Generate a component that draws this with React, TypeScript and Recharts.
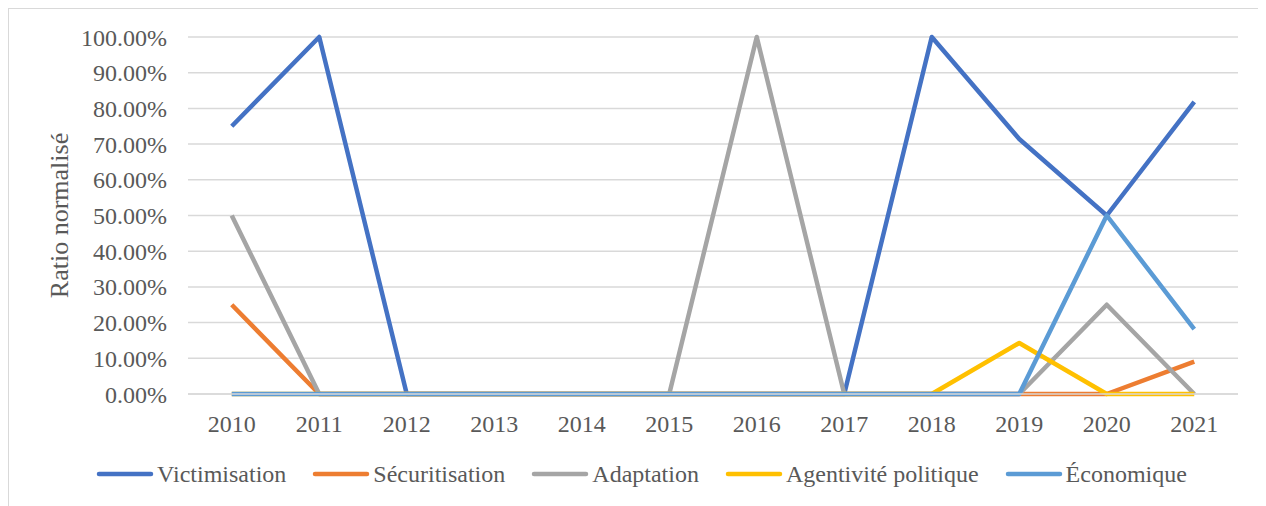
import { CartesianGrid, Legend, Line, LineChart, XAxis, YAxis } from "recharts";

const years = ["2010", "2011", "2012", "2013", "2014", "2015", "2016", "2017", "2018", "2019", "2020", "2021"];

const victimisation = [0.75, 1, 0, 0, 0, 0, 0, 0, 1, 0.7143, 0.5, 0.8182];
const securitisation = [0.25, 0, 0, 0, 0, 0, 0, 0, 0, 0, 0, 0.0909];
const adaptation = [0.5, 0, 0, 0, 0, 0, 1, 0, 0, 0, 0.25, 0];
const agentivite = [0, 0, 0, 0, 0, 0, 0, 0, 0, 0.1429, 0, 0];
const economique = [0, 0, 0, 0, 0, 0, 0, 0, 0, 0, 0.5, 0.1818];

const yTicks = [0, 0.1, 0.2, 0.3, 0.4, 0.5, 0.6, 0.7, 0.8, 0.9, 1];

const series = [
  { key: "victimisation", name: "Victimisation", color: "#4472C4" },
  { key: "securitisation", name: "Sécuritisation", color: "#ED7D31" },
  { key: "adaptation", name: "Adaptation", color: "#A5A5A5" },
  { key: "agentivite", name: "Agentivité politique", color: "#FFC000" },
  { key: "economique", name: "Économique", color: "#5B9BD5" },
];

const data = years.map((year, i) => ({
  year,
  victimisation: victimisation[i],
  securitisation: securitisation[i],
  adaptation: adaptation[i],
  agentivite: agentivite[i],
  economique: economique[i],
}));

const font = '"Liberation Serif", "DejaVu Serif", serif';
const textColor = "#595959";

function LegendContent() {
  return (
    <div
      style={{
        height: 57,
        paddingLeft: 36,
        boxSizing: "border-box",
        display: "flex",
        justifyContent: "center",
        alignItems: "flex-start",
        fontFamily: font,
        fontSize: 24,
        color: textColor,
        lineHeight: "18px",
      }}
    >
      {series.map((s) => (
        <div
          key={s.key}
          style={{ display: "flex", alignItems: "center", margin: "0 13px", position: "relative", top: 16 }}
        >
          <svg width={58} height={8} style={{ marginRight: 3 }}>
            <line x1={3} y1={4} x2={55} y2={4} stroke={s.color} strokeWidth={4.5} strokeLinecap="round" />
          </svg>
          <span>{s.name}</span>
        </div>
      ))}
    </div>
  );
}

export default function App() {
  return (
    <div
      style={{
        width: 1258,
        height: 498,
        boxSizing: "border-box",
        borderTop: "1px solid #d9d9d9",
        borderLeft: "1px solid #d9d9d9",
        background: "#fff",
        fontFamily: font,
      }}
    >
      <LineChart width={1257} height={497} data={data} margin={{ top: 28, right: 28, left: 0, bottom: 0 }}>
        <CartesianGrid vertical={false} stroke="#d9d9d9" strokeWidth={1.5} />
        <XAxis
          dataKey="year"
          height={55}
          padding={{ left: 43.75, right: 43.75 }}
          tickLine={false}
          axisLine={{ stroke: "#d9d9d9", strokeWidth: 1.5 }}
          tickSize={0}
          tickMargin={21}
          tick={{ fill: textColor, fontSize: 24, fontFamily: font }}
          interval={0}
        />
        <YAxis
          width={179}
          domain={[0, 1]}
          ticks={yTicks}
          tickFormatter={(v: number) => `${(v * 100).toFixed(2)}%`}
          axisLine={false}
          tickLine={false}
          tickSize={0}
          tickMargin={21}
          tick={{ fill: textColor, fontSize: 24, fontFamily: font }}
          label={{
            content: () => (
              <text
                x={50}
                y={206.5}
                transform="rotate(-90 50 206.5)"
                textAnchor="middle"
                dominantBaseline="central"
                fill={textColor}
                fontSize={26}
                fontFamily={font}
              >
                Ratio normalisé
              </text>
            ),
          }}
        />
        <Legend verticalAlign="bottom" content={<LegendContent />} />
        {series.map((s) => (
          <Line
            key={s.key}
            type="linear"
            dataKey={s.key}
            name={s.name}
            stroke={s.color}
            strokeWidth={4.5}
            strokeLinejoin="round"
            dot={false}
            activeDot={false}
            isAnimationActive={false}
          />
        ))}
      </LineChart>
    </div>
  );
}
